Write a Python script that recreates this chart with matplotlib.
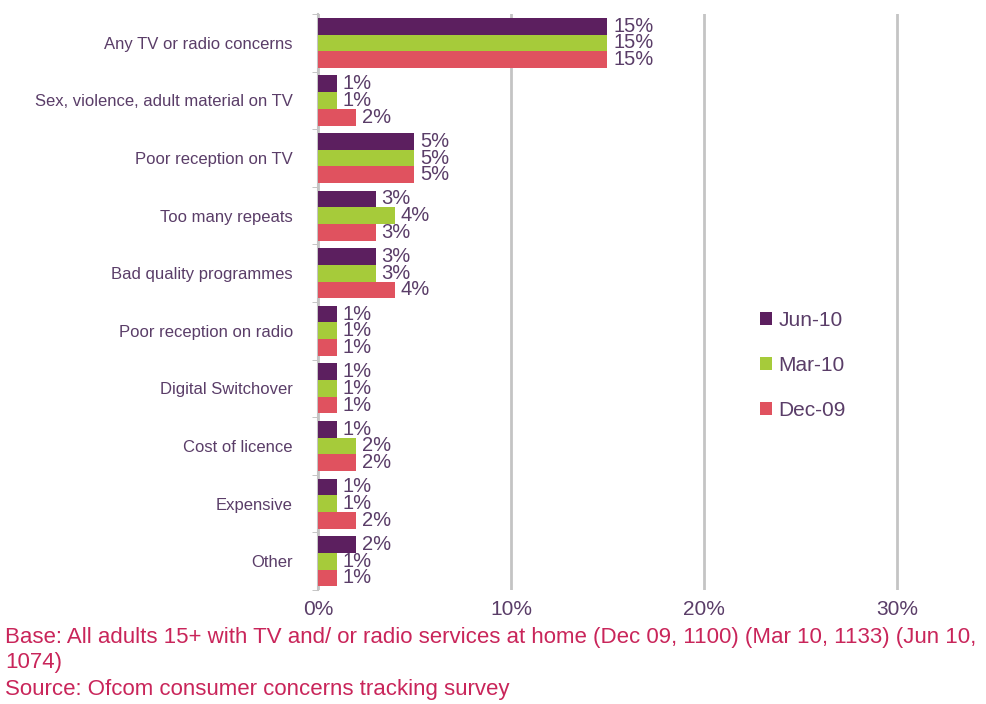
import numpy as np
import matplotlib.pyplot as plt

plt.rcParams['font.family'] = ['Liberation Sans', 'DejaVu Sans']

categories = ['Any TV or radio concerns', 'Sex, violence, adult material on TV',
              'Poor reception on TV', 'Too many repeats', 'Bad quality programmes',
              'Poor reception on radio', 'Digital Switchover', 'Cost of licence',
              'Expensive', 'Other']
jun10 = [15, 1, 5, 3, 3, 1, 1, 1, 1, 2]
mar10 = [15, 1, 5, 4, 3, 1, 1, 2, 1, 1]
dec09 = [15, 2, 5, 3, 4, 1, 1, 2, 2, 1]
series = [('Jun-10', jun10, '#5c1f5f'),
          ('Mar-10', mar10, '#a6cb3a'),
          ('Dec-09', dec09, '#e0525f')]

text_col = '#5a3d68'
note_col = '#c9255a'

fig = plt.figure(figsize=(9.87, 7.04), dpi=100)
ax = fig.add_axes([0.322, 0.162, 0.675, 0.818])

y = np.arange(len(categories))
h = 0.29
for k, (name, vals, col) in enumerate(series):
    pos = y + (k - 1) * h
    ax.barh(pos, vals, height=h, color=col, label=name, zorder=3)
    for p, v in zip(pos, vals):
        ax.text(v + 0.3, p, f'{v}%', va='center', ha='left',
                fontsize=14.5, color=text_col, zorder=4)

ax.set_ylim(len(categories) - 0.5, -0.5)
ax.set_xlim(0, 34.5)
ax.set_xticks([0, 10, 20, 30])
ax.set_xticklabels(['0%', '10%', '20%', '30%'], fontsize=15, color=text_col)
ax.set_yticks(y)
ax.set_yticklabels(categories, fontsize=12, color=text_col)
ax.tick_params(axis='y', length=0, pad=18)
ax.tick_params(axis='x', length=0, pad=7)
ax.set_yticks(np.arange(len(categories) + 1) - 0.5, minor=True)
ax.tick_params(axis='y', which='minor', length=4, color='#bbbbbb')

ax.xaxis.grid(True, color='#c4c4c4', linewidth=2)
for s in ['top', 'right', 'bottom']:
    ax.spines[s].set_visible(False)
ax.spines['left'].set_color('#c4c4c4')
ax.spines['left'].set_linewidth(1.5)

leg = ax.legend(loc='center left', bbox_to_anchor=(0.635, 0.39), frameon=False,
                fontsize=15, handlelength=0.6, handleheight=0.6,
                handletextpad=0.3, labelspacing=1.25)
for t in leg.get_texts():
    t.set_color(text_col)

fig.text(0.005, 0.077, 'Base: All adults 15+ with TV and/ or radio services at home '
         '(Dec 09, 1100) (Mar 10, 1133) (Jun 10,\n1074)',
         fontsize=16, color=note_col, va='center', linespacing=1.25)
fig.text(0.005, 0.02, 'Source: Ofcom consumer concerns tracking survey',
         fontsize=16, color=note_col, va='center')

fig.savefig('out.png', dpi=100)
